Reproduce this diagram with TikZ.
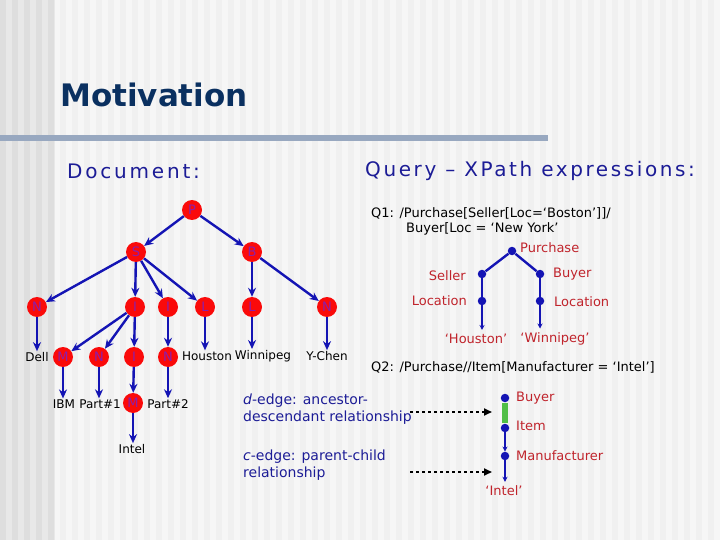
\documentclass[tikz,border=0pt]{standalone}
\usepackage{fontspec}
\setmainfont{DejaVu Sans}
\usetikzlibrary{arrows.meta}
\definecolor{navy}{RGB}{10,48,96}
\definecolor{qblue}{RGB}{28,28,150}
\definecolor{ebl}{RGB}{20,20,180}
\definecolor{vred}{RGB}{250,10,10}
\definecolor{vtxt}{RGB}{140,30,170}
\definecolor{lred}{RGB}{192,36,44}
\definecolor{rulec}{RGB}{152,168,192}
\definecolor{dgreen}{RGB}{80,190,70}
\definecolor{bgA}{RGB}{246,246,246}
\definecolor{bgB}{RGB}{240,240,240}
\definecolor{lftA}{RGB}{232,232,232}
\definecolor{lftB}{RGB}{222,222,222}
\begin{document}
\begin{tikzpicture}[x=1pt,y=-1pt,
  every node/.style={inner sep=1pt,font=\fontsize{12}{14}\selectfont},
  vtx/.style={circle,fill=vred,text=vtxt,minimum size=20pt,inner sep=0pt,font=\fontsize{13}{15}\selectfont},
  dot/.style={circle,fill=ebl,minimum size=8.5pt,inner sep=0pt},
  lbl/.style={text=lred,font=\fontsize{13}{15}\selectfont},
  qtxt/.style={font=\fontsize{13}{15}\selectfont,anchor=west},
  note/.style={text=qblue,align=left,anchor=north west,font=\fontsize{14}{17}\selectfont},
  edge/.style={draw=ebl,line width=2.4pt,-{Stealth[length=9pt,width=8pt]}},
  qline/.style={draw=ebl,line width=2.4pt},
  qedge/.style={draw=ebl,line width=2.4pt,-{Stealth[length=5pt,width=5pt]}},
  darr/.style={draw=black,line width=1.8pt,dashed,-{Triangle[length=8pt,width=7pt]}}]
\useasboundingbox (0,0) rectangle (720,540);
% background
\fill[bgA] (0,0) rectangle (720,540);
\foreach \x in {60,72,...,708} \fill[bgB] (\x,0) rectangle ++(6,540);
\fill[lftA] (0,0) rectangle (55,540);
\foreach \x in {0,12,...,48} \fill[lftB] (\x,0) rectangle ++(6,540);
\fill[rulec] (0,135) rectangle (548,141);
% headings
\node[anchor=west,text=navy,font=\fontsize{31}{36}\selectfont\bfseries] (title) at (59,95) {Motivation};
\node[anchor=west,text=qblue,font=\fontsize{20}{24}\selectfont\addfontfeature{LetterSpace=14}] (doc) at (66,171) {Document:};
\node[anchor=west,text=qblue,font=\fontsize{20}{24}\selectfont\addfontfeature{LetterSpace=13}] (qry) at (364,171) {Query – XPath expressions:};
% document tree
\node[vtx] (P) at (192,210) {P};
\node[vtx] (S) at (136,252) {S};
\node[vtx] (B) at (252,252) {B};
\node[vtx] (N1) at (37,307) {N};
\node[vtx] (I1) at (135,307) {I};
\node[vtx] (I2) at (168,307) {I};
\node[vtx] (L1) at (205,307) {L};
\node[vtx] (L2) at (252,307) {L};
\node[vtx] (N2) at (327,307) {N};
\node (dell) at (37,357) {Dell};
\node[vtx] (M1) at (63,357) {M};
\node[vtx] (N3) at (99,357) {N};
\node[vtx] (I3) at (134,357) {I};
\node[vtx] (N4) at (168,357) {N};
\node (hou) at (207,356) {Houston};
\node (win) at (263,356) {Winnipeg};
\node (ych) at (327,356) {Y-Chen};
\node (ibm) at (64,404) {IBM};
\node (pt1) at (100,404) {Part\#1};
\node[vtx] (M2) at (133,403) {M};
\node (pt2) at (168,404) {Part\#2};
\node (intel) at (132,449) {Intel};
\foreach \a/\b in {P/S,P/B,S/N1,S/I1,S/I2,S/L1,B/L2,B/N2,I1/M1,I1/N3,I1/I3,
  I2/N4,I3/M2}
  \draw[edge] (\a) -- (\b);
% straight down to the text leaves
\foreach \a/\b in {N1/dell,L1/hou,L2/win,N2/ych,M1/ibm,N3/pt1,N4/pt2,M2/intel}
  \draw[edge] (\a) -- (\a |- \b.north);
% query 1
\node[qtxt] (q1a) at (370,213) {Q1: /Purchase[Seller[Loc=‘Boston’]]/};
\node[qtxt] (q1b) at (405,229) {Buyer[Loc = ‘New York’};
\node[dot] (pu) at (512,251) {};
\node[dot] (se) at (482,274) {};
\node[dot] (bu) at (540,274) {};
\node[dot] (lo1) at (482,301) {};
\node[dot] (lo2) at (540,301) {};
\node[lbl,anchor=west] at (519,248) {Purchase};
\node[lbl,anchor=east] at (467,276) {Seller};
\node[lbl,anchor=west] at (552,274) {Buyer};
\node[lbl,anchor=east] at (468,301) {Location};
\node[lbl,anchor=west] at (553,302) {Location};
\node[lbl] (hq) at (476,339) {‘Houston’};
\node[lbl] (wq) at (555,339) {‘Winnipeg’};
\draw[qline] (pu) -- (se);
\draw[qline] (pu) -- (bu);
\draw[qline] (se) -- (lo1);
\draw[qline] (bu) -- (lo2);
\draw[qedge,shorten >=3pt] (lo1) -- (lo1 |- hq.north);
\draw[qedge,shorten >=3pt] (lo2) -- (lo2 |- wq.north);
% query 2
\node[qtxt] (q2) at (370,367) {Q2: /Purchase//Item[Manufacturer = ‘Intel’]};
\node[dot] (bu3) at (505,398) {};
\node[dot] (it3) at (505,428) {};
\node[dot] (mf3) at (505,456) {};
\node[lbl,anchor=west] at (515,398) {Buyer};
\node[lbl,anchor=west] at (515,426) {Item};
\node[lbl,anchor=west] at (515,456) {Manufacturer};
\node[lbl] (iq) at (504,491) {‘Intel’};
\draw[dgreen,line width=5.5pt,shorten <=1pt,shorten >=1pt] (bu3) -- (it3);
\draw[qedge] (it3) -- (mf3);
\draw[qedge,shorten >=3pt] (mf3) -- (mf3 |- iq.north);
% edge kinds
\node[note] (dn) at (242,393) {\textit{d}-edge: ancestor-\\descendant relationship};
\node[note] (cn) at (242,449) {\textit{c}-edge: parent-child\\relationship};
\coordinate (d1) at (410,412);
\coordinate (d2) at (492,412);
\coordinate (c1) at (410,472);
\coordinate (c2) at (492,472);
\draw[darr] (d1) -- (d2);
\draw[darr] (c1) -- (c2);
\end{tikzpicture}
\end{document}
